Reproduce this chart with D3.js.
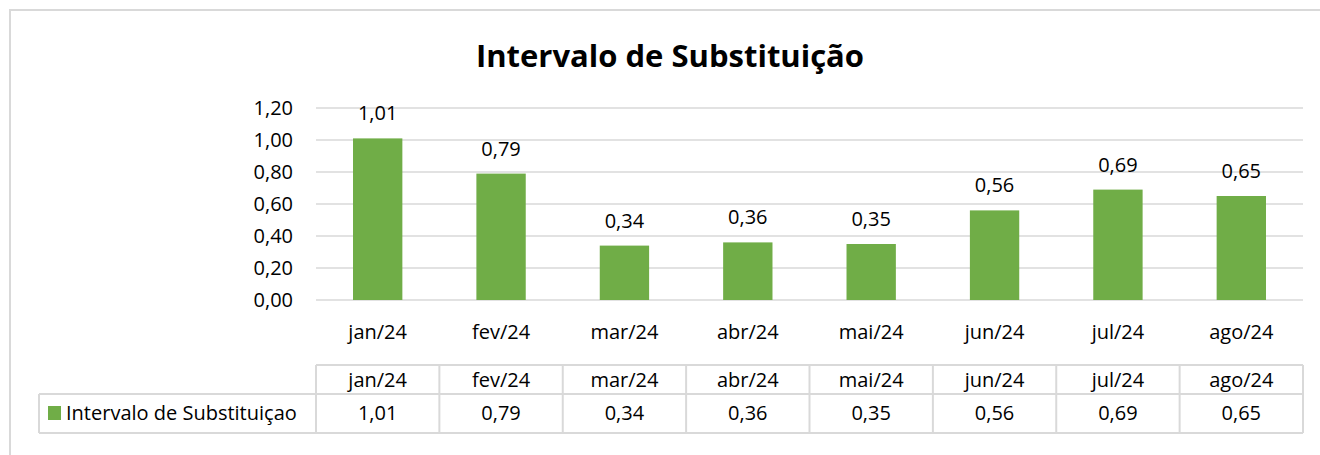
<!DOCTYPE html>
<meta charset="utf-8">
<style>
body { margin: 0; background: #fff; }
text { font-family: "Open Sans", sans-serif; fill: #000; }
.grid line { stroke: #d9d9d9; stroke-width: 1.5px; }
.tbl line { stroke: #d9d9d9; stroke-width: 2px; }
</style>
<body>
<script src="https://d3js.org/d3.v7.min.js"></script>
<script>

var width = 1320,
    height = 455;

var months = ["jan/24", "fev/24", "mar/24", "abr/24", "mai/24", "jun/24", "jul/24", "ago/24"];
var values = [1.01, 0.79, 0.34, 0.36, 0.35, 0.56, 0.69, 0.65];
var yTicks = [0, 0.2, 0.4, 0.6, 0.8, 1.0, 1.2];
var seriesName = "Intervalo de Substituiçao";
var title = "Intervalo de Substituição";

var green = "#70ad47";
var fs = "20px";
var fmt = function(v) { return d3.format(".2f")(v).replace(".", ","); };

var svg = d3.select("body").append("svg")
    .attr("width", width)
    .attr("height", height);

// chart frame (cut off on right and bottom)
svg.append("rect")
    .attr("x", 10).attr("y", 10)
    .attr("width", 1320).attr("height", 460)
    .attr("fill", "#fff")
    .attr("stroke", "#d9d9d9")
    .attr("stroke-width", 2);

var x = d3.scaleBand()
    .domain(months)
    .range([316, 1303])
    .paddingInner(0.6)
    .paddingOuter(0.3);

var xCell = d3.scaleBand()
    .domain(months)
    .range([316, 1303]);

var y = d3.scaleLinear()
    .domain([0, 1.2])
    .range([300, 108]);

svg.append("text")
    .attr("x", 670)
    .attr("y", 67)
    .attr("text-anchor", "middle")
    .style("font-weight", "bold")
    .style("font-size", "31px")
    .text(title);

// gridlines
svg.append("g")
    .attr("class", "grid")
  .selectAll("line")
    .data(yTicks)
  .enter().append("line")
    .attr("x1", 316).attr("x2", 1303)
    .attr("y1", function(d) { return y(d); })
    .attr("y2", function(d) { return y(d); });

// y axis labels
var yAxis = d3.axisLeft(y)
    .tickValues(yTicks)
    .tickFormat(fmt)
    .tickSize(0)
    .tickPadding(23);

svg.append("g")
    .attr("transform", "translate(316,0)")
    .call(yAxis)
    .call(function(g) { g.select(".domain").remove(); })
    .selectAll("text")
    .style("font-family", "'Open Sans', sans-serif")
    .style("font-size", fs);

// bars
svg.append("g")
  .selectAll("rect")
    .data(values)
  .enter().append("rect")
    .attr("x", function(d, i) { return x(months[i]); })
    .attr("y", function(d) { return y(d); })
    .attr("width", x.bandwidth())
    .attr("height", function(d) { return y(0) - y(d); })
    .attr("fill", green);

// value labels
svg.append("g")
  .selectAll("text")
    .data(values)
  .enter().append("text")
    .attr("x", function(d, i) { return x(months[i]) + x.bandwidth() / 2; })
    .attr("y", function(d) { return y(d) - 18; })
    .attr("text-anchor", "middle")
    .style("font-size", fs)
    .text(fmt);

// category labels
svg.append("g")
  .selectAll("text")
    .data(months)
  .enter().append("text")
    .attr("x", function(d) { return xCell(d) + xCell.bandwidth() / 2; })
    .attr("y", 339)
    .attr("text-anchor", "middle")
    .style("font-size", fs)
    .text(function(d) { return d; });

// data table
var tbl = svg.append("g").attr("class", "tbl");
var rowTop = 365, rowMid = 394, rowBot = 433;

tbl.append("line").attr("x1", 316).attr("x2", 1303).attr("y1", rowTop).attr("y2", rowTop);
tbl.append("line").attr("x1", 39).attr("x2", 1303).attr("y1", rowMid).attr("y2", rowMid);
tbl.append("line").attr("x1", 39).attr("x2", 1303).attr("y1", rowBot).attr("y2", rowBot);
tbl.append("line").attr("x1", 39).attr("x2", 39).attr("y1", rowMid).attr("y2", rowBot);

tbl.selectAll(".vline")
    .data(months.concat(["end"]))
  .enter().append("line")
    .attr("class", "vline")
    .attr("x1", function(d, i) { return 316 + i * xCell.bandwidth(); })
    .attr("x2", function(d, i) { return 316 + i * xCell.bandwidth(); })
    .attr("y1", rowTop).attr("y2", rowBot);

tbl.selectAll(".hdr")
    .data(months)
  .enter().append("text")
    .attr("class", "hdr")
    .attr("x", function(d) { return xCell(d) + xCell.bandwidth() / 2; })
    .attr("y", 387)
    .attr("text-anchor", "middle")
    .style("font-size", fs)
    .text(function(d) { return d; });

tbl.selectAll(".val")
    .data(values)
  .enter().append("text")
    .attr("class", "val")
    .attr("x", function(d, i) { return xCell(months[i]) + xCell.bandwidth() / 2; })
    .attr("y", 420)
    .attr("text-anchor", "middle")
    .style("font-size", fs)
    .text(fmt);

tbl.append("rect")
    .attr("x", 48).attr("y", 406)
    .attr("width", 13).attr("height", 14)
    .attr("fill", green);

tbl.append("text")
    .attr("x", 66)
    .attr("y", 420)
    .style("font-size", fs)
    .text(seriesName);

</script>
